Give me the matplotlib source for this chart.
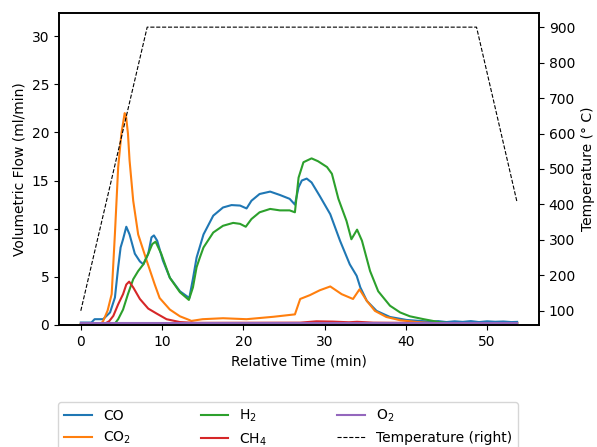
import matplotlib
matplotlib.use('Agg')
import matplotlib.pyplot as plt

# gas flows (time in min, flow in ml/min)
co_t = [0, 1.3, 1.7, 2.75, 3.6, 4.2, 4.6, 4.9, 5.2, 5.6, 6.0, 6.65, 7.27, 7.7, 8.3, 8.7, 9.0, 9.4,
        10.1, 10.96, 12.2, 13.35, 13.8, 14.25, 15.1, 16.3, 17.5, 18.55, 19.6, 20.4, 21.0, 22.0, 23.3,
        24.5, 25.7, 26.35, 26.8, 27.2, 27.8, 28.4, 29.4, 30.7, 31.9, 33.1, 33.95, 34.4, 35.2, 36.4,
        38.05, 40.1, 41.7, 43, 44, 45, 46, 47, 48, 49, 50, 51, 52, 53, 53.7]
co = [0.25, 0.25, 0.6, 0.6, 1.3, 2.85, 6.0, 8.05, 8.9, 10.2, 9.4, 7.4, 6.6, 6.3, 7.4, 9.1, 9.3, 8.75,
      6.7, 4.9, 3.5, 2.8, 4.8, 7.0, 9.4, 11.35, 12.2, 12.45, 12.4, 12.1, 12.9, 13.6, 13.85,
      13.5, 13.1, 12.5, 14.3, 15.0, 15.2, 14.8, 13.4, 11.5, 8.75, 6.3, 5.1, 3.9, 2.5, 1.46,
      0.83, 0.52, 0.42, 0.35, 0.4, 0.3, 0.38, 0.32, 0.4, 0.3, 0.38, 0.33, 0.36, 0.3, 0.32]

co2_t = [0, 2.5, 2.75, 3.3, 3.8, 4.2, 4.6, 5.0, 5.4, 5.55, 5.8, 6.0, 6.45, 7.06, 8.1, 9.1, 9.7, 10.96,
         12.2, 13.4, 13.6, 15, 17.5, 20.4, 23.7, 26.35, 27.0, 27.6, 28.2, 29.4, 30.7, 32.1, 33.5,
         34.3, 35.2, 36.2, 37.6, 39.3, 41.3, 43, 53.7]
co2 = [0.1, 0.15, 0.4, 1.5, 3.2, 9.5, 16.4, 19.9, 22.0, 21.8, 19.9, 17.1, 12.9, 9.4, 6.7, 4.2, 2.8, 1.6,
       0.9, 0.5, 0.42, 0.6, 0.7, 0.6, 0.85, 1.1, 2.7, 2.9, 3.1, 3.6, 4.0, 3.2, 2.7,
       3.7, 2.5, 1.46, 0.83, 0.49, 0.31, 0.2, 0.15]

h2_t = [0, 4.2, 4.6, 5.2, 5.8, 6.45, 7.06, 7.7, 8.3, 8.8, 9.2, 9.9, 10.96, 12.2, 13.3, 13.8, 14.25,
        14.65, 15.1, 16.3, 17.5, 18.75, 19.6, 20.3, 21.0, 22.0, 23.3, 24.5, 25.7, 26.35, 26.8,
        27.4, 28.4, 29.2, 30.3, 30.9, 31.7, 32.7, 33.3, 34.0, 34.6, 35.6, 36.6, 38.05, 39.3,
        40.5, 42.2, 44.2, 46, 53.7]
h2 = [0.05, 0.15, 0.6, 1.6, 3.2, 4.75, 5.6, 6.3, 7.4, 8.4, 8.65, 7.4, 4.9, 3.4, 2.6, 3.9, 6.0,
      7.0, 8.05, 9.6, 10.3, 10.6, 10.5, 10.2, 11.0, 11.7, 12.05, 11.9, 11.9, 11.7, 15.3,
      16.9, 17.3, 17.0, 16.4, 15.7, 13.1, 10.8, 8.9, 9.9, 8.75, 5.6, 3.5, 2.0, 1.3,
      0.9, 0.6, 0.28, 0.15, 0.15]

ch4_t = [0, 2.9, 3.5, 4.0, 4.6, 5.2, 5.6, 5.95, 6.45, 7.27, 8.3, 9.3, 10.55, 12.2, 14, 27, 29, 31,
         33, 34, 36, 44, 53.7]
ch4 = [0.05, 0.1, 0.4, 0.94, 2.15, 3.2, 4.2, 4.5, 3.9, 2.7, 1.7, 1.2, 0.6, 0.3, 0.22, 0.24, 0.38, 0.35,
       0.28, 0.33, 0.24, 0.2, 0.2]

o2_t = [0, 53.7]
o2 = [0.2, 0.2]

# furnace temperature (deg C)
temp_t = [0, 8.17, 48.7, 53.7]
temp = [100, 900, 900, 405]

plt.rcParams['font.size'] = 10
plt.rcParams['axes.linewidth'] = 1.2

fig = plt.figure(figsize=(5.97, 4.47), dpi=100)
ax = fig.add_axes([0.0988, 0.273, 0.804, 0.698])

ax.plot(co_t, co, color='C0', label='CO')
ax.plot(co2_t, co2, color='C1', label='CO$_2$')
ax.plot(h2_t, h2, color='C2', label='H$_2$')
ax.plot(ch4_t, ch4, color='C3', label='CH$_4$')
ax.plot(o2_t, o2, color='C4', label='O$_2$')
ax.set_ylim(0, 32.4)
ax.set_xlabel('Relative Time (min)')
ax.set_ylabel('Volumetric Flow (ml/min)')

ax2 = ax.twinx()
ax2.plot(temp_t, temp, color='black', linestyle='--', linewidth=0.8, label='Temperature (right)')
ax2.set_ylabel('Temperature (° C)')
ax2.set_ylim(60, 940)
ax2.set_yticks(range(100, 1000, 100))

h1, l1 = ax.get_legend_handles_labels()
h2_, l2 = ax2.get_legend_handles_labels()
ax.legend(h1 + h2_, l1 + l2, loc='upper left', ncol=3, mode='expand', borderaxespad=0,
          bbox_to_anchor=(0.0977, 0.0, 0.7695, 0.1), bbox_transform=fig.transFigure)

fig.savefig('out.png', dpi=100)
